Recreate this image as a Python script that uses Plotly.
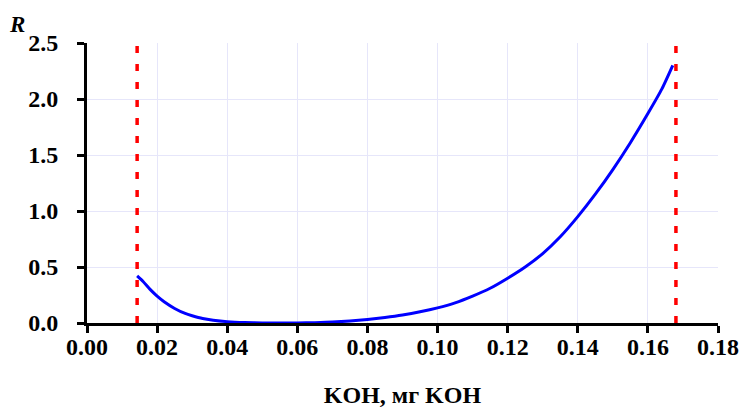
import plotly.graph_objects as go

x_vals = [0.0143, 0.016, 0.018, 0.020, 0.022, 0.025, 0.028, 0.030, 0.033, 0.036, 0.040, 0.045, 0.050, 0.055,
          0.060, 0.065, 0.070, 0.075, 0.080, 0.085, 0.090, 0.095, 0.100, 0.105, 0.110, 0.115, 0.120,
          0.125, 0.130, 0.135, 0.140, 0.145, 0.150, 0.155, 0.160, 0.164, 0.1671]
r_vals = [0.42, 0.37, 0.30, 0.24, 0.19, 0.13, 0.085, 0.065, 0.04, 0.025, 0.012, 0.004, 0.001, 0.0,
          0.0, 0.003, 0.008, 0.018, 0.032, 0.05, 0.072, 0.10, 0.135, 0.18, 0.24, 0.31, 0.40,
          0.50, 0.62, 0.77, 0.95, 1.15, 1.37, 1.61, 1.87, 2.09, 2.30]
bounds = [0.0143, 0.168]
x_ticks = [0.00, 0.02, 0.04, 0.06, 0.08, 0.10, 0.12, 0.14, 0.16, 0.18]
y_ticks = [0.0, 0.5, 1.0, 1.5, 2.0, 2.5]

SERIF = "Liberation Serif"
fig = go.Figure()
for b in bounds:
    fig.add_trace(go.Scatter(x=[b, b], y=[0, 2.5], mode="lines",
                             line=dict(color="#ff0000", width=3.5, dash="7px,11px"),
                             showlegend=False, hoverinfo="skip"))
fig.add_trace(go.Scatter(x=x_vals, y=r_vals, mode="lines",
                         line=dict(color="#0000ff", width=3, shape="spline", smoothing=0.6),
                         showlegend=False))

tf = dict(family=SERIF, size=24, color="black", weight="bold")
fig.update_layout(
    template="none",
    width=741, height=414, margin=dict(l=87, r=23, t=43, b=91),
    plot_bgcolor="white", paper_bgcolor="white",
    font=dict(family=SERIF, size=24, color="black"),
    xaxis=dict(range=[0, 0.18], tickvals=x_ticks, ticktext=[f"{v:.2f}" for v in x_ticks],
               tickfont=tf, automargin=False, ticklabelstandoff=-7,
               showline=True, linecolor="black", linewidth=3, ticks="outside", ticklen=7, tickwidth=3,
               tickcolor="black", showgrid=True, gridcolor="#e6e6fa", gridwidth=1, zeroline=False,
               title=dict(text="KOH, мг KOH", standoff=28, font=tf)),
    yaxis=dict(range=[0, 2.5], tickvals=y_ticks, ticktext=[f"{v:.1f}" for v in y_ticks],
               tickfont=tf, automargin=False, ticklabelstandoff=14,
               showline=True, linecolor="black", linewidth=3, ticks="outside", ticklen=7, tickwidth=3,
               tickcolor="black", showgrid=True, gridcolor="#e6e6fa", gridwidth=1, zeroline=False),
    annotations=[dict(text="<i>R</i>", xref="paper", yref="paper", x=-0.127, y=1.015,
                      xanchor="left", yanchor="bottom", showarrow=False,
                      font=dict(family=SERIF, size=23, color="black", weight="bold"))],
)
fig.write_html("out.html")
